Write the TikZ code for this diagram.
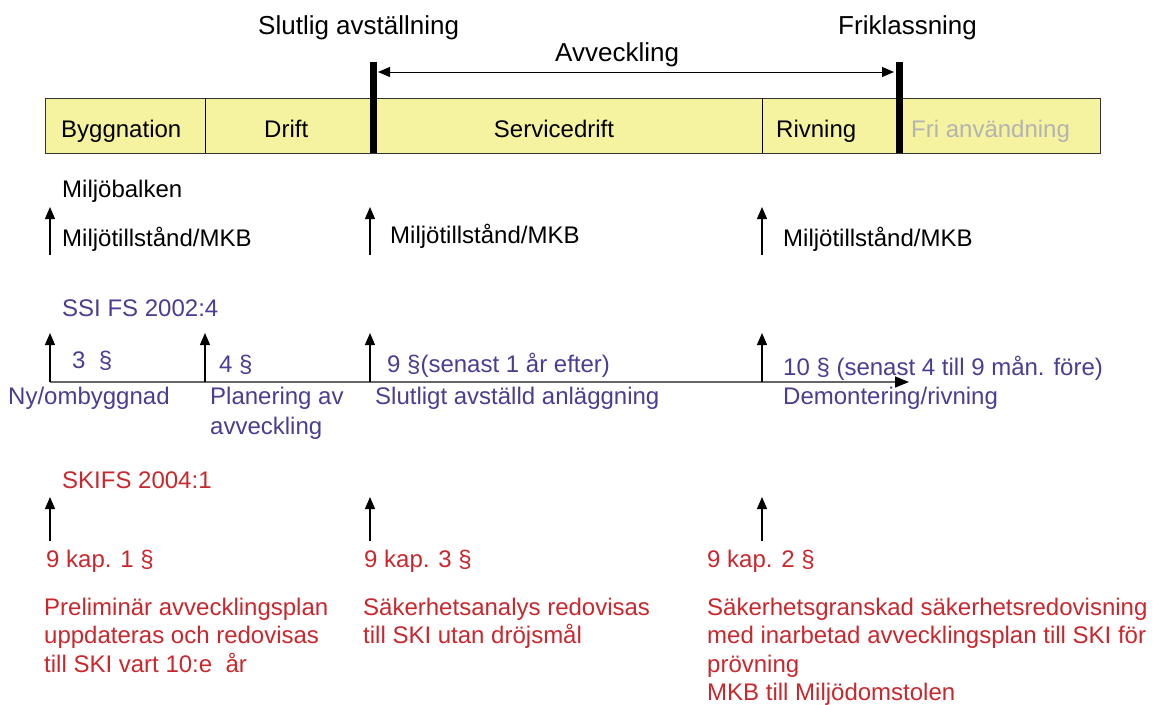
\documentclass[tikz,border=0pt]{standalone}
\usepackage{fontspec}
\setmainfont{Liberation Sans}
\usetikzlibrary{arrows.meta}
\definecolor{barfill}{HTML}{F5F3A0}
\definecolor{ssiblue}{HTML}{4B3D91}
\definecolor{skired}{HTML}{C8282D}
\definecolor{fadedgray}{HTML}{B3B3B3}
\definecolor{axisgray}{HTML}{666666}
\tikzset{
  lbl/.style={anchor=base west, inner sep=0pt, font=\fontsize{24}{28}\selectfont},
  biglbl/.style={anchor=base west, inner sep=0pt, font=\fontsize{26}{30}\selectfont},
  para/.style={anchor=north west, inner sep=0pt, align=left, font=\fontsize{24}{28.3}\selectfont},
  uparrow/.style={line width=1.3pt, -{Triangle[length=12pt,width=10pt]}},
  thickmark/.style={line width=7pt},
}
\begin{document}
\begin{tikzpicture}[x=1pt,y=-1pt]
\useasboundingbox (0,0) rectangle (1159,704);
% bar
\draw[fill=barfill, draw=black!80, line width=1pt] (45,98) rectangle (1100,153);
\draw[line width=0.8pt] (205,98) -- (205,153);
\draw[line width=0.8pt] (762,98) -- (762,153);
\coordinate (m1top) at (373,62);
\coordinate (m1bot) at (373,153);
\coordinate (m2top) at (899,62);
\coordinate (m2bot) at (899,153);
\draw[thickmark] (m1top) -- (m1bot);
\draw[thickmark] (m2top) -- (m2bot);
\coordinate (avL) at (378,72);
\coordinate (avR) at (894,72);
\draw[line width=1pt, {Triangle[length=12pt,width=10pt]}-{Triangle[length=12pt,width=10pt]}] (avL) -- (avR);
% top labels
\node[biglbl] (slutlig) at (258,34) {Slutlig avställning};
\node[biglbl] (avveckling) at (555,61) {Avveckling};
\node[biglbl] (friklass) at (838,34) {Friklassning};
% bar labels
\node[lbl] (bygg) at (61,137) {Byggnation};
\node[lbl] (drift) at (264,137) {Drift};
\node[lbl, anchor=base] (service) at (554,137) {Servicedrift};
\node[lbl] (rivning) at (776,137) {Rivning};
\node[lbl, text=fadedgray] (fri) at (911,137) {Fri användning};
% Miljöbalken
\node[lbl] (mb) at (62,197) {Miljöbalken};
\foreach \n/\x in {a/50,b/370,c/762}{
  \coordinate (mbs\n) at (\x,255);
  \coordinate (mbe\n) at (\x,207);
  \draw[uparrow] (mbs\n) -- (mbe\n);
}
\node[lbl] (mt1) at (62,246) {Miljötillstånd/MKB};
\node[lbl] (mt2) at (390,243) {Miljötillstånd/MKB};
\node[lbl] (mt3) at (783,246) {Miljötillstånd/MKB};
% SSI
\begin{scope}[text=ssiblue]
\node[lbl] (ssi) at (62,316) {SSI FS 2002:4};
\node[lbl] (p3) at (72,368) {3\ \ §};
\node[lbl] (p4) at (219,372) {4 §};
\node[lbl] (p9) at (387,372) {9 §(senast 1 år efter)};
\node[lbl] (p10) at (783,375) {10 § (senast 4 till 9 mån. före)};
\node[lbl] (ny) at (8,404) {Ny/ombyggnad};
\node[lbl, align=left, anchor=north west, font=\fontsize{24}{29.5}\selectfont] (plan) at (210,387) {Planering av\\avveckling};
\node[lbl] (slutligt) at (375,404) {Slutligt avställd anläggning};
\node[lbl] (demont) at (783,404) {Demontering/rivning};
\end{scope}
\coordinate (axs) at (50,382);
\coordinate (axe) at (909,382);
\draw[axisgray, line width=1.5pt, -{Triangle[length=14pt,width=11pt,color=black]}] (axs) -- (axe);
\foreach \n/\x in {a/50,b/205,c/370,d/762}{
  \coordinate (ss\n) at (\x,382);
  \coordinate (se\n) at (\x,333);
  \draw[uparrow] (ss\n) -- (se\n);
}
% SKI
\begin{scope}[text=skired]
\node[lbl] (ski) at (62,488) {SKIFS 2004:1};
\node[lbl] (k1) at (46,567) {9 kap. 1 §};
\node[lbl] (k3) at (364,567) {9 kap. 3 §};
\node[lbl] (k2) at (707,567) {9 kap. 2 §};
\node[para] (t1) at (44,598) {Preliminär avvecklingsplan\\uppdateras och redovisas\\till SKI vart 10:e\ \ år};
\node[para] (t3) at (363,598) {Säkerhetsanalys redovisas\\till SKI utan dröjsmål};
\node[para] (t2) at (707,598) {Säkerhetsgranskad säkerhetsredovisning\\med inarbetad avvecklingsplan till SKI för\\prövning\\MKB till Miljödomstolen};
\end{scope}
\foreach \n/\x in {a/50,b/370,c/762}{
  \coordinate (ks\n) at (\x,541);
  \coordinate (ke\n) at (\x,497);
  \draw[uparrow] (ks\n) -- (ke\n);
}
\end{tikzpicture}
\end{document}
